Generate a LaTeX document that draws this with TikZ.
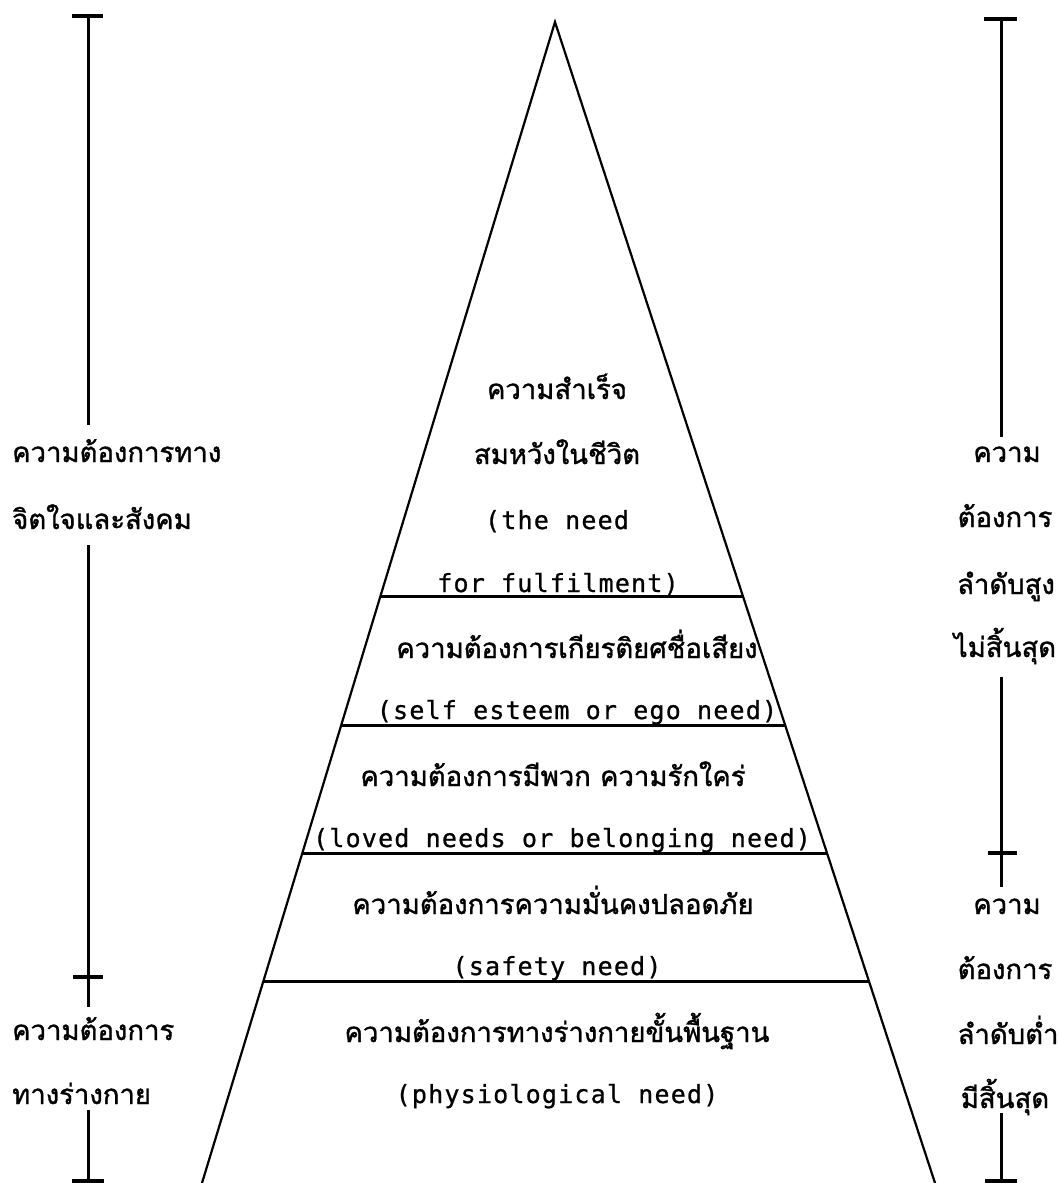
\documentclass[tikz,border=0pt]{standalone}
\usepackage{fontspec}
\usetikzlibrary{calc}
\newfontfamily\thaifont[Script=Thai,FakeBold=1.2]{Loma}
\newfontfamily\engfont[LetterSpace=4.8,FakeBold=0.8]{DejaVu Sans Mono}
\tikzset{
  side/.style={line width=2.2pt},
  level/.style={line width=3pt},
  scaleline/.style={line width=3pt},
  tickbar/.style={line width=4pt},
  thai/.style={font=\thaifont\fontsize{27.5}{32}\selectfont, inner sep=0pt, anchor=base},
  thaileft/.style={thai, anchor=base west},
  eng/.style={font=\engfont\fontsize{25}{30}\selectfont, inner sep=0pt, anchor=base},
}
\begin{document}
\begin{tikzpicture}[x=1pt,y=-1pt]
\useasboundingbox (0,0) rectangle (1058,1183);
\fill[white] (0,0) rectangle (1058,1183);

% pyramid
\coordinate (apex) at (555,22);
\coordinate (bl) at (202,1183);
\coordinate (br) at (935,1183);
\draw[side] (bl) -- (apex) -- (br);
\foreach \t/\n in {0.49526/a,0.60551/b,0.71576/c,0.82601/d}{
  \coordinate (L\n) at ($(apex)!\t!(bl)$);
  \coordinate (R\n) at ($(apex)!\t!(br)$);
  \draw[level] (L\n) -- (R\n);
}

% pyramid texts
\node[thai] (t1) at (557,399) {ความสำเร็จ};
\node[thai] (t2) at (557,464) {สมหวังในชีวิต};
\node[eng]  (t3) at (557,529) {(the need};
\node[eng]  (t4) at (558,592) {for fulfilment)};
\node[thai] (t5) at (577,658) {ความต้องการเกียรติยศชื่อเสียง};
\node[eng]  (t6) at (577,719) {(self esteem or ego need)};
\node[thai] (t7) at (553,786) {ความต้องการมีพวก ความรักใคร่};
\node[eng]  (t8) at (562,847) {(loved needs or belonging need)};
\node[thai] (t9) at (553,914) {ความต้องการความมั่นคงปลอดภัย};
\node[eng]  (t10) at (557,975) {(safety need)};
\node[thai] (t11) at (557,1042) {ความต้องการทางร่างกายขั้นพื้นฐาน};
\node[eng]  (t12) at (557,1103) {(physiological need)};

% left labels
\node[thaileft] (l1) at (12,462) {ความต้องการทาง};
\node[thaileft] (l2) at (12,529) {จิตใจและสังคม};
\node[thaileft] (l3) at (12,1040) {ความต้องการ};
\node[thaileft] (l4) at (12,1104) {ทางร่างกาย};

% right labels
\node[thai] (r1) at (1007,462) {ความ};
\node[thai] (r2) at (1005,527) {ต้องการ};
\node[thai] (r3) at (1006,594) {ลำดับสูง};
\node[thai] (r4) at (1005,657) {ไม่สิ้นสุด};
\node[thai] (r5) at (1007,914) {ความ};
\node[thai] (r6) at (1005,979) {ต้องการ};
\node[thai] (r7) at (1008,1044) {ลำดับต่ำ};
\node[thai] (r8) at (1005,1108) {มีสิ้นสุด};

% left scale
\coordinate (la1) at (88,16);   \coordinate (la2) at (88,425);
\coordinate (lb1) at (88,545);  \coordinate (lb2) at (88,1007);
\coordinate (lc1) at (88,1110); \coordinate (lc2) at (88,1183);
\draw[scaleline] (la1) -- (la2);
\draw[scaleline] (lb1) -- (lb2);
\draw[scaleline] (lc1) -- (lc2);
\draw[tickbar] ($(la1)+(-16,0)$) -- ($(la1)+(15,0)$);
\coordinate (lx) at (88,977);
\draw[tickbar] ($(lx)+(-15,0)$) -- ($(lx)+(15,0)$);
\coordinate (ly) at (88,1181);
\draw[tickbar] ($(ly)+(-16,0)$) -- ($(ly)+(16,0)$);

% right scale
\coordinate (ra1) at (1001,19);  \coordinate (ra2) at (1001,437);
\coordinate (rb1) at (1001,677); \coordinate (rb2) at (1001,887);
\coordinate (rc1) at (1001,1113);\coordinate (rc2) at (1001,1183);
\draw[scaleline] (ra1) -- (ra2);
\draw[scaleline] (rb1) -- (rb2);
\draw[scaleline] (rc1) -- (rc2);
\draw[tickbar] ($(ra1)+(-17,0)$) -- ($(ra1)+(16,0)$);
\coordinate (rx) at (1001,853);
\draw[tickbar] ($(rx)+(-13,0)$) -- ($(rx)+(16,0)$);
\coordinate (ry) at (1001,1181);
\draw[tickbar] ($(ry)+(-16,0)$) -- ($(ry)+(16,0)$);
\end{tikzpicture}
\end{document}
